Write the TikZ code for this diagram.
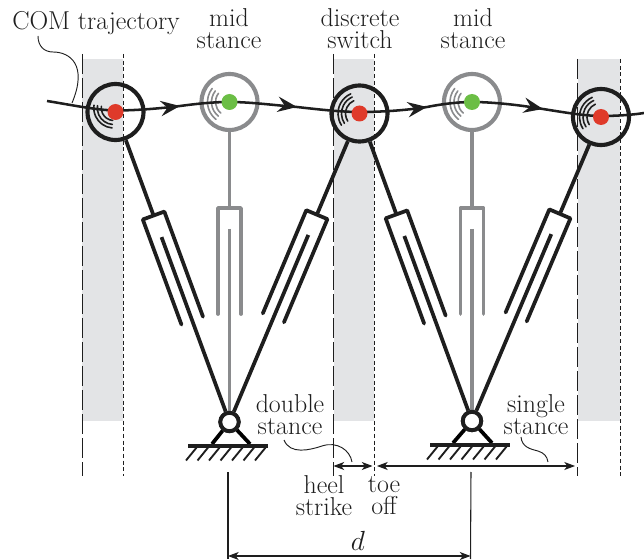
\documentclass[tikz,border=0pt]{standalone}
\usepackage{xcolor}
\usetikzlibrary{calc,arrows.meta}
\definecolor{ink}{HTML}{1E1E1E}
\definecolor{soft}{HTML}{8A8B8D}
\definecolor{band}{HTML}{E3E4E6}
\definecolor{dotred}{HTML}{DF3A2A}
\definecolor{dotgreen}{HTML}{6BBE45}
\tikzset{
  bandbox/.style={fill=band,draw=none},
  longdash/.style={draw=ink,line width=0.75pt,dash pattern=on 15pt off 3pt},
  shortdash/.style={draw=ink,line width=0.75pt,dash pattern=on 3pt off 2pt},
  hipring/.style={circle,draw=#1,fill=none,line width=3.1pt,minimum size=42pt,inner sep=0pt},
  hipdot/.style={circle,fill=#1,draw=none,minimum size=12pt,inner sep=0pt},
  pivotring/.style={circle,draw=ink,fill=white,line width=2.9pt,minimum size=13.8pt,inner sep=0pt},
  limb/.style={line width=2.8pt,line cap=round,line join=round},
  traj/.style={draw=ink,line width=1.9pt},
  trajhead/.style={-{Stealth[length=14.5pt,width=11.5pt,inset=5pt]}},
  fine/.style={draw=ink,line width=0.7pt},
  dimline/.style={draw=ink,line width=0.8pt},
  dimhead/.style={{Stealth[length=8pt,width=6pt,inset=2.2pt]}-{Stealth[length=8pt,width=6pt,inset=2.2pt]}},
  wave/.style={line width=1.2pt,line cap=round},
  lab/.style={text=ink,align=center,inner sep=0pt,font=\fontsize{19.4}{16.4}\selectfont},
  groundbar/.style={draw=ink,line width=3pt},
  hatchline/.style={draw=ink,line width=1.4pt},
}
% hip, pivot, colour, sleeve top, sleeve end, rod top (distances from the pivot in px)
\newcommand\telescope[6]{%
  \coordinate (st) at ($(#2)!#4*0.75pt!(#1)$);
  \coordinate (se) at ($(#2)!#5*0.75pt!(#1)$);
  \coordinate (rt) at ($(#2)!#6*0.75pt!(#1)$);
  \coordinate (sa) at ($(st)!8.6pt!90:(#1)$);
  \coordinate (sb) at ($(st)!8.6pt!-90:(#1)$);
  \coordinate (ea) at ($(se)!8.6pt!-90:(#2)$);
  \coordinate (eb) at ($(se)!8.6pt!90:(#2)$);
  \draw[limb,draw=#3,line cap=butt] (#1) -- (st);
  \draw[limb,draw=#3] (ea) -- (sa) -- (sb) -- (eb);
  \draw[limb,draw=#3,line cap=butt] (rt) -- (#2);
}
% centre, colour, start angle, end angle, radii
\newcommand\swirl[5]{%
  \foreach \rr in {#5}{
    \draw[wave,draw=#2] #1 ++(#3:\rr) arc[start angle=#3,end angle=#4,x radius=\rr,y radius=\rr];
  }
}
\newcommand\hatches[2]{%
  \foreach \kk in {0,...,6}{
    \draw[hatchline] ({#1+11.5*\kk},#2+14.5) -- ({#1+11.5*\kk+11},#2+1);
  }
}
\begin{document}
\begin{tikzpicture}[x=0.75pt,y=-0.75pt]
\useasboundingbox (0,0) rectangle (644,560);
% bands
\fill[bandbox] (82,59) rectangle (123,421);
\fill[bandbox] (334,59) rectangle (374,421);
\fill[bandbox] (577.5,59) rectangle (620,421);
\coordinate (la1) at (82,54); \coordinate (lb1) at (82,476);
\coordinate (sa1) at (123,54); \coordinate (sb1) at (123,476);
\coordinate (la2) at (333.5,54); \coordinate (lb2) at (333.5,476);
\coordinate (sa2) at (374,54); \coordinate (sb2) at (374,476);
\coordinate (la3) at (577.5,59); \coordinate (lb3) at (577.5,476);
\coordinate (sa3) at (620,59); \coordinate (sb3) at (620,476);
\foreach \ii in {1,2,3}{
  \draw[longdash] (la\ii) -- (lb\ii);
  \draw[shortdash] (sa\ii) -- (sb\ii);
}
% nodes
\node[hipring=ink]  (h1) at (115.5,112) {};
\node[hipring=soft] (h2) at (229.5,102) {};
\node[hipring=ink]  (h3) at (359.5,113.5) {};
\node[hipring=soft] (h4) at (472,102) {};
\node[hipring=ink]  (h5) at (601,117) {};
\node[pivotring] (p1) at (229.5,422) {};
\node[pivotring] (p2) at (472,421) {};
% legs
\telescope{h2}{p1}{soft}{214}{108}{193}
\telescope{h4}{p2}{soft}{213}{107}{192}
\telescope{h1}{p1}{ink}{220}{108}{197}
\telescope{h3}{p1}{ink}{225}{113}{203}
\telescope{h3}{p2}{ink}{220}{108}{197}
\telescope{h5}{p2}{ink}{225}{113}{203}
\node[pivotring] at (p1) {};
\node[pivotring] at (p2) {};
% supports
\coordinate (g1a) at (212,444); \coordinate (g1b) at (250,444);
\coordinate (g2a) at (453,443); \coordinate (g2b) at (492,443);
\draw[limb,line cap=butt] (p1) -- (g1a);
\draw[limb,line cap=butt] (p1) -- (g1b);
\draw[limb,line cap=butt] (p2) -- (g2a);
\draw[limb,line cap=butt] (p2) -- (g2b);
\draw[groundbar] (188,446) -- (268,446);
\draw[groundbar] (430,445) -- (510,445);
\hatches{186}{446}
\hatches{427}{445}
% swirls
\swirl{(113.8,108)}{ink}{95}{188}{12.5,16.5,20}
\swirl{(h2)}{soft}{128}{218}{14,18,22}
\swirl{(h3)}{ink}{147}{246}{14,18,21.5}
\swirl{(h4)}{soft}{128}{218}{14,18,22}
\swirl{(h5)}{ink}{147}{246}{14,18,21.5}
% trajectory
\coordinate (t0) at (47,101);
\coordinate (a1) at (180,106);
\coordinate (a2) at (297,107);
\coordinate (a3) at (427,107);
\coordinate (a4) at (543,109);
\coordinate (t9) at (644,113);
\draw[traj] (t0) .. controls (72,105) and (95,110) .. (115.5,110.5)
  .. controls (135,110.5) and (160,108.5) .. (a1)
  .. controls (195,104) and (212,102) .. (h2.center)
  .. controls (250,102) and (272,105) .. (a2)
  .. controls (315,109) and (340,112) .. (359.5,112)
  .. controls (380,112) and (405,110.5) .. (a3)
  .. controls (442,104) and (458,102) .. (h4.center)
  .. controls (492,102) and (520,105) .. (a4)
  .. controls (562,112) and (585,116) .. (601,116)
  .. controls (615,116) and (632,115) .. (t9);
\draw[traj,trajhead] (170,107.3) -- (a1);
\draw[traj,trajhead] (287,105.6) -- (a2);
\draw[traj,trajhead] (417,108.4) -- (a3);
\draw[traj,trajhead] (533,107) -- (a4);
% dots
\node[hipdot=dotred]   (d1) at (h1) {};
\node[hipdot=dotgreen] (d2) at (h2) {};
\node[hipdot=dotred]   (d3) at (h3) {};
\node[hipdot=dotgreen] (d4) at (h4) {};
\node[hipdot=dotred]   (d5) at (h5) {};
% labels
\node[lab] (lcom) at (96,23) {COM trajectory};
\node[lab] (lm1) at (229,29) {mid\\stance};
\node[lab] (lds) at (360,29) {discrete\\switch};
\node[lab] (lm2) at (473,29) {mid\\stance};
\node[lab] (ldb) at (290,415) {double\\stance};
\node[lab] (lsg) at (536,415) {single\\stance};
\node[lab] (lhs) at (324,496) {heel\\strike};
\node[lab] (lto) at (384,496) {toe\\off};
\node[lab] (ld) at (358,541) {$d$};
% leaders
\coordinate (c1) at (72,103);
\draw[fine] (38,36) .. controls (38,46) and (44,52) .. (53,52)
  .. controls (70,52) and (88,65) .. (c1);
\coordinate (c2) at (352,462);
\draw[fine] (284,440) .. controls (290,455) and (310,450) .. (322,446)
  .. controls (337,441) and (350,450) .. (c2);
\coordinate (c3) at (548,462);
\draw[fine] (521,437) .. controls (522,447) and (530,449) .. (538,451)
  .. controls (544,453) and (547,456) .. (c3);
% dimensions
\coordinate (e1) at (333.5,466); \coordinate (e2) at (372.5,466);
\coordinate (e3) at (377,466); \coordinate (e4) at (575,466);
\draw[dimline,dimhead] (e1) -- (e2);
\draw[dimline,dimhead] (e3) -- (e4);
\coordinate (v1a) at (228,472); \coordinate (v1b) at (228,559);
\coordinate (v2a) at (471,472); \coordinate (v2b) at (470.5,559);
\draw[dimline] (v1a) -- (v1b);
\draw[dimline] (v2a) -- (v2b);
\coordinate (e5) at (228,556); \coordinate (e6) at (470.5,556);
\draw[dimline,dimhead] (e5) -- (e6);
\end{tikzpicture}
\end{document}
